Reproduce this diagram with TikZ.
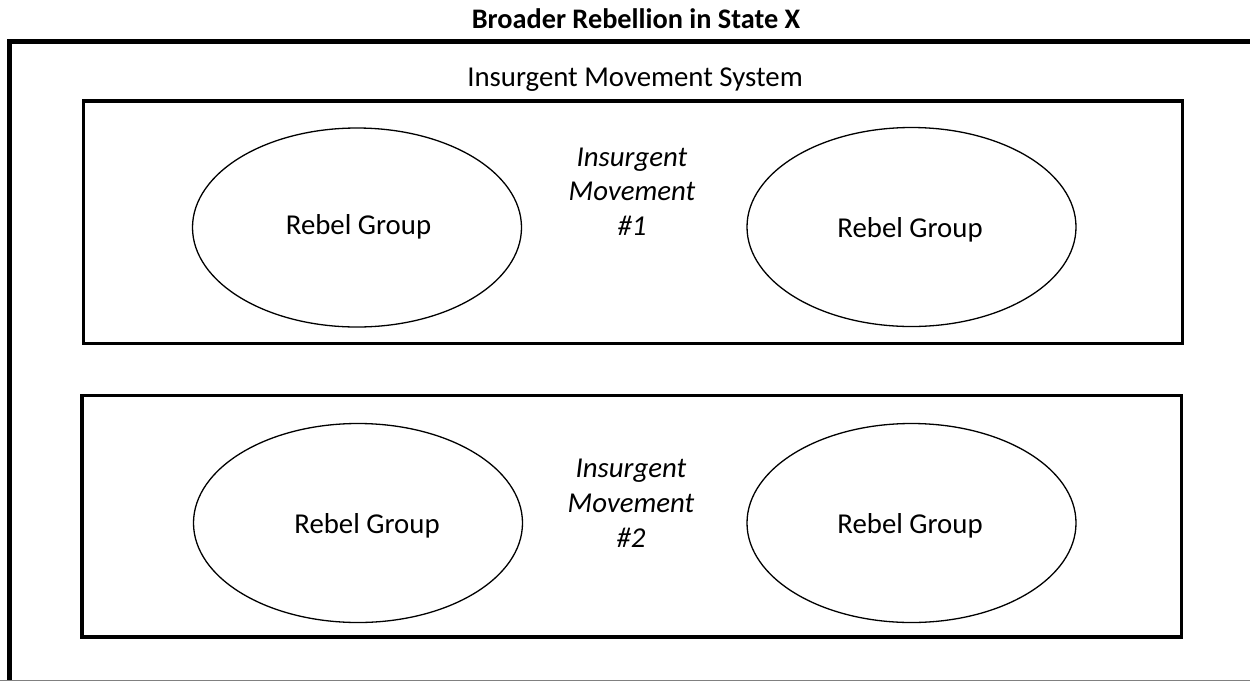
\documentclass[tikz,border=0pt]{standalone}
\usepackage{fontspec}
\setmainfont{Carlito}
\usetikzlibrary{shapes.geometric}

\begin{document}
\begin{tikzpicture}[x=1pt,y=-1pt,
  frame/.style={line width=4.5pt},
  movebox/.style={line width=3.4pt},
  grp/.style={draw,ellipse,line width=1.3pt,minimum width=329pt,minimum height=199pt,inner sep=0pt},
  txt/.style={font=\fontsize{28.8}{34.5}\selectfont,inner sep=0pt,anchor=base}]
\useasboundingbox (0,0) rectangle (1250,681);
\coordinate (TL) at (9.3,41.7); \coordinate (TR) at (1250,41.7); \coordinate (BL) at (9.3,681);
\draw[frame] (TR)--(TL)--(BL);
\draw[gray,line width=1pt] (0,680.5)--(1250,680.5);
\node[txt,font=\fontsize{28.3}{34}\selectfont\bfseries] (title) at (636,28) {Broader Rebellion in State X};
\node[txt] (sys) at (635,86) {Insurgent Movement System};
% movement 1
\draw[movebox] (83.5,101) rectangle (1182.3,343.5);
\node[grp] (g11) at (357,227.5) {};
\node[grp] (g12) at (911.5,227) {};
\node[txt] (r11) at (358.5,234) {Rebel Group};
\node[txt] (r12) at (910,237) {Rebel Group};
\node[txt,align=center,font=\fontsize{28.8}{34.5}\selectfont\itshape] (m1) at (632,235) {Insurgent\\Movement\\\#1};
% movement 2
\draw[movebox] (82,395.5) rectangle (1181.5,637);
\node[grp] (g21) at (358,523) {};
\node[grp] (g22) at (911.5,523) {};
\node[txt] (r21) at (367,533) {Rebel Group};
\node[txt] (r22) at (910,533) {Rebel Group};
\node[txt,align=center,font=\fontsize{28.8}{34.8}\selectfont\itshape] (m2) at (631,547) {Insurgent\\Movement\\\#2};
\end{tikzpicture}
\end{document}
